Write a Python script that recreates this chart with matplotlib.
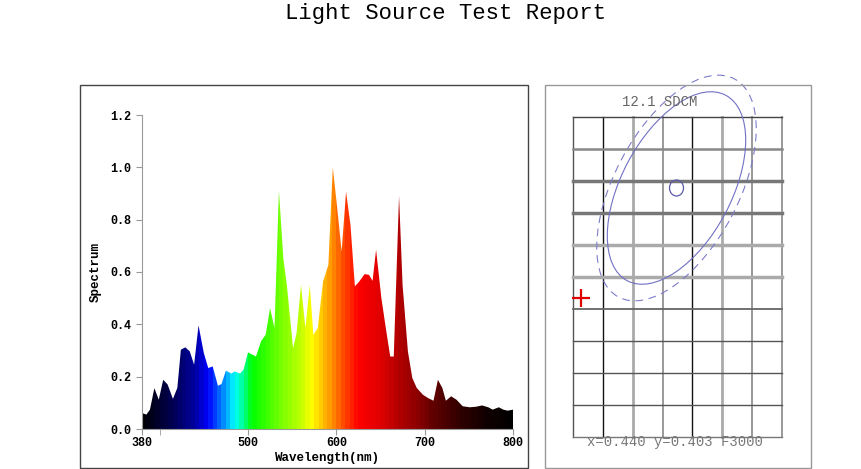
import numpy as np
import matplotlib.pyplot as plt
from matplotlib.patches import Ellipse, Rectangle
from matplotlib.colors import to_rgb

# spectrum (nm, relative)
wavelength = [380, 385, 389, 394, 399, 404, 409, 415, 420, 424, 429, 434, 439, 444,
              450, 455, 460, 466, 470, 475, 481, 485, 491, 495, 500, 509, 515, 520,
              525, 530, 535, 540, 544, 551, 555, 560, 565, 570, 574, 579, 585, 591,
              596, 601, 606, 611, 616, 621, 626, 632, 637, 641, 645, 651, 656, 661,
              665, 671, 675, 681, 686, 691, 698, 704, 710, 715, 720, 724, 730, 736,
              743, 751, 758, 765, 772, 777, 784, 789, 794, 800]
spectrum = [0.061, 0.055, 0.074, 0.156, 0.112, 0.188, 0.170, 0.115, 0.157, 0.303,
            0.312, 0.297, 0.246, 0.396, 0.290, 0.233, 0.239, 0.165, 0.172, 0.223,
            0.212, 0.220, 0.212, 0.227, 0.293, 0.277, 0.337, 0.360, 0.462, 0.386,
            0.910, 0.653, 0.550, 0.309, 0.366, 0.550, 0.386, 0.550, 0.360, 0.386,
            0.564, 0.627, 1.000, 0.844, 0.678, 0.907, 0.780, 0.545, 0.564, 0.592,
            0.589, 0.566, 0.685, 0.500, 0.386, 0.277, 0.277, 0.891, 0.550, 0.297,
            0.195, 0.157, 0.131, 0.118, 0.108, 0.188, 0.157, 0.108, 0.125, 0.112,
            0.087, 0.083, 0.085, 0.090, 0.083, 0.074, 0.083, 0.074, 0.070, 0.074]

x_ticks = [380, 500, 600, 700, 800]
y_ticks = [0.0, 0.2, 0.4, 0.6, 0.8, 1.0, 1.2]

title = "Light Source Test Report"
sdcm_label = "12.1 SDCM"
coord_label = "x=0.440 y=0.403 F3000"

# colour of the rainbow fill at each wavelength
col_wl = [380, 400, 420, 440, 455, 465, 475, 485, 492, 505, 540, 560, 572, 585,
          595, 610, 625, 650, 670, 690, 710, 740, 770, 800]
col_rgb = ['#000000', '#000030', '#000060', '#0000a0', '#0000ff', '#0050ff',
           '#00a0ff', '#00ffff', '#00ffb0', '#00ff00', '#80ff00', '#c0ff00',
           '#ffff00', '#ffc000', '#ff9000', '#ff4000', '#ff0000', '#e00000',
           '#b40000', '#900000', '#600000', '#300000', '#100000', '#000000']

fig = plt.figure(figsize=(8.62, 4.69), dpi=100)
W, H = 862, 469

def fbox(x0, y0, x1, y1):
    return [x0 / W, 1 - y1 / H, (x1 - x0) / W, (y1 - y0) / H]

fig.text(446 / W, 1 - 13 / H, title, ha='center', va='center',
         family='Liberation Mono', fontsize=16, color='black')

# panel frames
b = fbox(80, 85, 528, 468)
fig.patches.append(Rectangle((b[0], b[1]), b[2], b[3], transform=fig.transFigure,
                             fill=False, edgecolor='#444444', linewidth=1))
b = fbox(545, 85, 811, 468)
fig.patches.append(Rectangle((b[0], b[1]), b[2], b[3], transform=fig.transFigure,
                             fill=False, edgecolor='#999999', linewidth=1))

# ---- spectrum ----
ax = fig.add_axes(fbox(142, 115, 513, 429))
rgb = np.array([to_rgb(c) for c in col_rgb])
bands = np.arange(382.5, 800, 5)
img = np.stack([np.interp(bands, col_wl, rgb[:, i]) for i in range(3)], axis=-1)[None, :, :]
im = ax.imshow(img, extent=[380, 800, 0, 1.2], aspect='auto', interpolation='nearest',
               origin='lower', zorder=1)
poly = ax.fill_between(wavelength, spectrum, 0, facecolor='none', edgecolor='none')
im.set_clip_path(poly.get_paths()[0], transform=ax.transData)

ax.set_xlim(380, 800)
ax.set_ylim(0, 1.2)
ax.set_xticks(x_ticks)
ax.set_xticks([400], minor=True)
ax.set_yticks(y_ticks)
ax.set_yticklabels(['%.1f' % v for v in y_ticks])
for s in ['top', 'right']:
    ax.spines[s].set_visible(False)
for s in ['left', 'bottom']:
    ax.spines[s].set_color('#999999')
ax.tick_params(which='both', direction='out', length=4, color='#999999', labelsize=8.5)
ax.tick_params(axis='x', pad=2)
for lab in ax.get_xticklabels() + ax.get_yticklabels():
    lab.set_family('Liberation Mono')
    lab.set_weight('bold')
ax.set_xlabel('Wavelength(nm)', family='Liberation Mono', weight='bold', fontsize=9, labelpad=2)
ax.set_ylabel('Spectrum', family='Liberation Mono', weight='bold', fontsize=9, labelpad=6)

# ---- SDCM grid ----
gx = fig.add_axes(fbox(573, 117, 782, 437))
gw, gh = 209, 320
gx.set_xlim(0, gw)
gx.set_ylim(0, gh)
gx.axis('off')

col_colors = ['#555555', '#111111', '#aaaaaa', '#888888', '#111111', '#aaaaaa', '#888888', '#888888']
col_widths = [1, 1, 2, 1.2, 1, 2, 1.2, 1.2]
for xv, c, lw in zip(np.linspace(0, gw, 8), col_colors, col_widths):
    gx.plot([xv, xv], [0, gh], color=c, lw=lw, clip_on=False, zorder=1)

# row lines listed from the top down
row_colors = ['#444444', '#888888', '#777777', '#777777', '#aaaaaa', '#aaaaaa',
              '#666666', '#555555', '#555555', '#555555', '#777777']
row_widths = [1, 1.8, 2.5, 2.5, 2.5, 2.5, 1.3, 1, 1, 1, 1]
for yv, c, lw in zip(np.linspace(gh, 0, 11), row_colors, row_widths):
    gx.plot([0, gw], [yv, yv], color=c, lw=lw, clip_on=False, zorder=1)

centre = (103.5, 249)
gx.add_patch(Ellipse(centre, 2 * 105, 2 * 55, angle=62, fill=False,
                     edgecolor='#7070c4', lw=0.8, clip_on=False, zorder=3))
gx.add_patch(Ellipse(centre, 2 * 123.5, 2 * 62, angle=62, fill=False,
                     edgecolor='#7c7cca', lw=0.8, ls=(0, (7, 5)), clip_on=False, zorder=3))
gx.add_patch(Ellipse(centre, 14, 16, fill=False, edgecolor='#5a5aaa', lw=0.9,
                     clip_on=False, zorder=3))
gx.plot([7.7], [138.7], marker='+', color='#e00000', markersize=13, mew=1.6,
        clip_on=False, zorder=4)

gx.text(87, 335, sdcm_label, ha='center', va='center', family='Liberation Mono',
        fontsize=10, color='#666666')
gx.text(102, -5, coord_label, ha='center', va='center', family='Liberation Mono',
        fontsize=10, color='#777777')

fig.savefig('out.png', dpi=100)
